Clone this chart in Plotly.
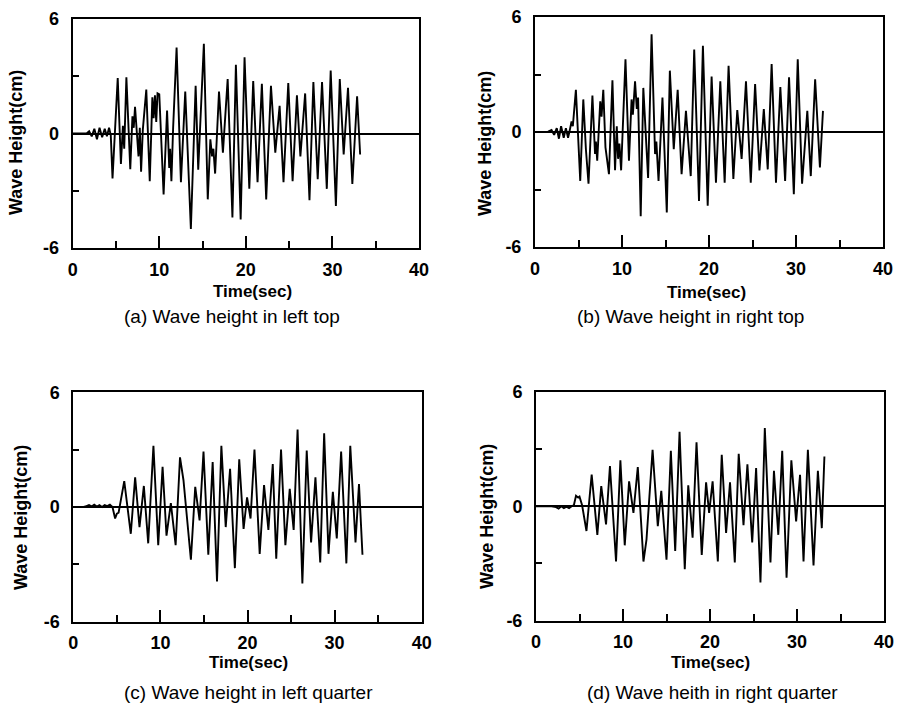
import plotly.graph_objects as go

# ---------------- data ----------------
t_a = [0, 1.6, 1.9, 2.2, 2.5, 2.8, 3.1, 3.4, 3.7, 3.95, 4.2, 4.4, 4.6, 5.2, 5.57, 5.8, 5.95, 6.2, 6.65, 6.9,
       7.05, 7.2, 7.6, 7.75, 7.9, 8.1, 8.5, 8.9, 9.2, 9.35, 9.5, 9.65, 9.8, 10.0, 10.15, 10.5, 10.9, 11.15, 11.25, 11.4,
       11.6, 12.0, 12.5, 13.0, 13.65, 14.2, 14.5, 15.15, 15.6, 15.9, 16.1, 16.25, 16.45, 16.9, 17.35, 17.9, 18.45, 18.85,
       19.4, 19.85, 20.4, 20.85, 21.35, 21.85, 22.35, 22.9, 23.4, 23.9, 24.35, 24.9, 25.4, 25.9, 26.3, 26.85, 27.35,
       27.8, 28.3, 28.8, 29.35, 29.8, 30.4, 30.85, 31.3, 31.8, 32.3, 32.85, 33.2]
h_a = [0, 0, 0.12, -0.15, 0.25, -0.3, 0.3, -0.2, 0.25, -0.15, 0.3, -0.1, -2.35, 2.9, -1.6, 0.4, -0.8, 2.95, -1.87, 0.9,
       0.3, 1.4, -1.2, 0.3, -2.0, 0.2, 2.3, -2.5, 1.9, 0.8, 2.0, 0.6, 2.1, 2.05, 0.5, -3.2, 1.2, -1.8, -0.8, -2.5,
       0.3, 4.5, -2.55, 2.2, -5.0, 2.5, -1.9, 4.7, -3.45, -0.3, -1.2, -0.8, -2.1, 2.2, -1.0, 2.85, -4.4, 3.6,
       -4.5, 4.0, -2.9, 2.75, -2.55, 2.6, -3.45, 2.5, -1.0, 1.45, -2.55, 2.65, -2.5, 2.0, -1.2, 2.1, -3.5,
       2.7, -2.4, 2.7, -2.9, 3.3, -3.8, 2.85, -1.1, 2.4, -2.65, 1.95, -1.1]

t_b = [0, 1.5, 1.9, 2.2, 2.5, 2.75, 3.0, 3.3, 3.55, 3.8, 4.0, 4.2, 4.35, 4.7, 5.2, 5.55, 5.85, 6.15, 6.6, 6.9,
       7.0, 7.15, 7.5, 7.65, 7.85, 8.1, 8.5, 8.9, 9.2, 9.4, 9.55, 9.7, 9.9, 10.4, 10.8, 11.1, 11.25, 11.5, 11.7, 11.85,
       12.15, 12.45, 13.0, 13.4, 13.8, 13.95, 14.2, 14.65, 15.15, 15.5, 15.95, 16.4, 16.85, 17.35, 17.9, 18.3, 18.85,
       19.3, 19.85, 20.3, 20.8, 21.3, 21.8, 22.25, 22.8, 23.25, 23.75, 24.25, 24.8, 25.3, 25.8, 26.3, 26.75, 27.2,
       27.7, 28.2, 28.75, 29.2, 29.75, 30.2, 30.7, 31.3, 31.7, 32.2, 32.75, 33.1]
h_b = [0, 0.02, 0.1, -0.15, 0.2, -0.35, 0.3, -0.3, 0.2, -0.3, 0.1, 0.55, 0.3, 2.2, -2.55, 1.7, -0.9, -2.7, 1.9, -1.15,
       -0.5, -1.5, 1.6, 0.8, 2.2, -0.8, -2.2, 2.7, -2.0, 0.3, -1.4, -0.6, -2.0, 3.8, -1.5, 1.7, 0.9, 2.65, 1.2, 1.8,
       -4.4, 2.3, -2.4, 5.1, -1.15, -0.5, -2.55, 1.8, -4.2, 3.2, -0.9, 2.2, -2.2, 1.1, -2.3, 4.3, -3.6,
       4.5, -3.85, 2.9, -2.65, 2.65, -2.65, 3.45, -2.45, 1.15, -1.4, 2.65, -2.65, 2.5, -2.0, 1.2, -1.95, 3.55,
       -2.65, 2.35, -2.55, 2.85, -3.25, 3.8, -2.7, 1.1, -2.3, 2.75, -1.85, 1.1]

t_c = [0, 1.2, 1.5, 1.8, 2.1, 2.4, 2.7, 3.0, 3.3, 3.6, 3.9, 4.2, 4.5, 4.8, 5.0, 5.2, 5.85, 6.6, 7.1, 7.6,
       8.1, 8.6, 9.2, 9.75, 10.25, 10.7, 11.2, 11.75, 12.25, 12.65, 13.5, 14.0, 14.5, 14.95, 15.5, 16.0, 16.5, 17.0,
       17.5, 18.0, 18.55, 19.05, 19.55, 19.95, 20.35, 20.8, 21.4, 21.9, 22.4, 22.9, 23.3, 23.85, 24.35, 24.85, 25.3,
       25.75, 26.3, 26.8, 27.3, 27.8, 28.35, 28.8, 29.3, 29.8, 30.25, 30.75, 31.35, 31.8, 32.4, 32.8, 33.2]
h_c = [0, 0, 0.05, 0.1, 0.03, 0.12, 0.02, 0.1, 0.0, 0.1, 0.05, 0.12, 0.0, -0.6, -0.35, -0.3, 1.35, -1.4, 1.55, -1.05,
       1.1, -1.9, 3.2, -2.0, 2.1, -1.5, 0.2, -2.0, 2.6, 1.4, -2.75, 1.05, -0.7, 2.9, -2.5, 2.35, -3.9, 3.2,
       -1.05, 2.0, -3.2, 2.5, -1.15, 0.5, -0.6, 3.0, -2.45, 1.15, -1.2, 2.25, -2.7, 3.0, -2.0, 0.95, -1.2,
       4.05, -4.0, 2.95, -1.85, 1.55, -2.9, 3.85, -2.45, 0.8, -1.65, 2.9, -2.95, 3.2, -1.85, 1.2, -2.5]

t_d = [0, 1.0, 1.8, 2.3, 2.6, 2.9, 3.2, 3.5, 3.8, 4.1, 4.35, 4.6, 4.85, 5.0, 5.3, 5.8, 6.4, 7.05, 7.5, 8.05,
       8.5, 9.2, 9.7, 10.2, 10.7, 11.2, 11.7, 12.35, 12.7, 13.4, 14.0, 14.4, 15.0, 15.5, 16.0, 16.5, 17.1, 17.5,
       18.0, 18.45, 19.05, 19.55, 19.9, 20.3, 20.9, 21.35, 21.85, 22.3, 22.85, 23.3, 23.85, 24.3, 24.85, 25.3, 25.8,
       26.3, 26.95, 27.35, 27.85, 28.3, 28.8, 29.35, 29.9, 30.35, 30.75, 31.25, 31.9, 32.4, 32.85, 33.15]
h_d = [0, 0.02, 0.0, -0.05, -0.12, 0.0, -0.1, -0.02, -0.1, 0.0, 0.05, 0.55, 0.45, 0.5, 0.05, -1.3, 1.65, -1.5, 1.05, -0.95,
       2.1, -2.9, 2.4, -2.05, 1.3, -0.35, 2.05, -2.9, -1.75, 2.95, -1.05, 0.8, -2.8, 2.9, -2.35, 3.9, -3.3, 1.1,
       -1.65, 3.35, -2.55, 1.25, -0.35, 1.3, -2.9, 2.7, -1.4, 1.25, -2.95, 2.75, -1.0, 2.2, -1.9, 2.0, -4.0,
       4.1, -2.95, 1.85, -1.5, 2.9, -3.75, 2.4, -0.8, 1.65, -2.9, 2.95, -3.1, 1.85, -1.15, 2.6]

x_tick_vals = [0, 10, 20, 30, 40]
x_tick_text = ["0", "10", "20", "30", "40"]
x_minor_vals = [5, 15, 25, 35]
y_tick_vals = [-6, -3, 0, 3, 6]
y_tick_text = ["-6", "", "0", "", "6"]
x_title = "Time(sec)"
y_title = "Wave Height(cm)"
captions = ["(a) Wave height in left top", "(b) Wave height in right top",
            "(c) Wave height in left quarter", "(d) Wave heith in right quarter"]

# ---------------- layout geometry (pixels) ----------------
W, H = 899, 710
FONT = "Arial, Liberation Sans, sans-serif"
# (left, right, top, bottom) of each plot frame
frames = [(72.7, 419, 19, 248), (535, 883, 17, 247), (73.3, 421.7, 392.3, 621.7), (536, 884, 391.7, 620.7)]
ytitle_pos = [(16, 143), (485, 144), (21, 518), (487, 517)]
xtitle_pos = [(252, 291), (706, 292), (248, 662), (710, 662)]
caption_pos = [(232, 316), (690, 316), (248, 692), (712, 692)]

series = [(t_a, h_a), (t_b, h_b), (t_c, h_c), (t_d, h_d)]

fig = go.Figure()
layout = {}
annotations = []
for i, ((t, h), (l, r, tp, bt)) in enumerate(zip(series, frames)):
    n = "" if i == 0 else str(i + 1)
    fig.add_trace(go.Scatter(x=t, y=h, mode="lines", line=dict(color="black", width=1.9),
                             xaxis="x" + n, yaxis="y" + n, showlegend=False, hoverinfo="skip"))
    layout["xaxis" + n] = dict(
        domain=[l / W, r / W], anchor="y" + n, range=[0, 40],
        tickmode="array", tickvals=x_tick_vals, ticktext=x_tick_text,
        ticks="inside", ticklen=12, tickwidth=2, tickcolor="black",
        showline=True, linewidth=2, linecolor="black", mirror=True,
        showgrid=False, zeroline=False, ticklabelstandoff=4,
        tickfont=dict(family=FONT, size=18, color="black", weight="bold"),
        minor=dict(tickmode="array", tickvals=x_minor_vals, ticks="inside", ticklen=7,
                   tickwidth=2, tickcolor="black", showgrid=False),
    )
    layout["yaxis" + n] = dict(
        domain=[1 - bt / H, 1 - tp / H], anchor="x" + n, range=[-6, 6],
        tickmode="array", tickvals=y_tick_vals, ticktext=y_tick_text,
        ticks="inside", ticklen=6, tickwidth=2, tickcolor="black",
        showline=True, linewidth=2, linecolor="black", mirror=True,
        showgrid=False, zeroline=True, zerolinecolor="black", zerolinewidth=2,
        ticklabelstandoff=8,
        tickfont=dict(family=FONT, size=18, color="black", weight="bold"),
    )
    yx, yy = ytitle_pos[i]
    annotations.append(dict(text=y_title, x=yx / W, y=1 - yy / H, xref="paper", yref="paper",
                            xanchor="center", yanchor="middle", textangle=-90, showarrow=False,
                            font=dict(family=FONT, size=18, color="black", weight="bold")))
    tx, ty = xtitle_pos[i]
    annotations.append(dict(text=x_title, x=tx / W, y=1 - ty / H, xref="paper", yref="paper",
                            xanchor="center", yanchor="middle", showarrow=False,
                            font=dict(family=FONT, size=17, color="black", weight="bold")))
    cx, cy = caption_pos[i]
    annotations.append(dict(text=captions[i], x=cx / W, y=1 - cy / H, xref="paper", yref="paper",
                            xanchor="center", yanchor="middle", showarrow=False,
                            font=dict(family=FONT, size=19, color="black")))

fig.update_layout(**layout)
fig.update_layout(
    width=W, height=H, margin=dict(l=0, r=0, t=0, b=0, autoexpand=False),
    paper_bgcolor="white", plot_bgcolor="white", showlegend=False,
    annotations=annotations,
)
fig.write_html(
    "out.html",
    config={"displayModeBar": False, "staticPlot": True},
    post_script="document.body.style.margin='0';document.documentElement.style.overflow='hidden';",
)
